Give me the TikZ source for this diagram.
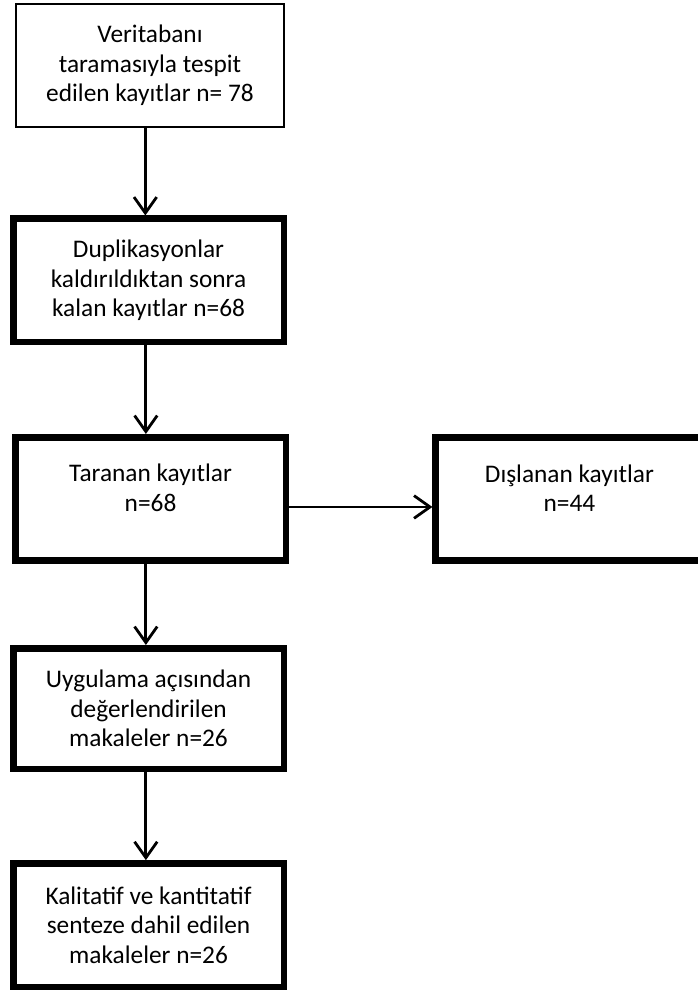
\documentclass[tikz,border=0pt]{standalone}
\usepackage{fontspec}
\setmainfont{Carlito}
\usetikzlibrary{positioning,arrows.meta}

\tikzset{
  thinbox/.style={draw,line width=1.5pt,minimum width=201pt,minimum height=92.3pt},
  thickbox/.style={draw,line width=4.9pt,minimum width=202.9pt,minimum height=92.6pt},
  txt/.style={align=center,font=\fontsize{19pt}{22pt}\selectfont},
  arr/.style={line width=2.1pt,-{Straight Barb[length=12pt,width=17pt,line width=2.1pt]}}
}

\begin{document}
\begin{tikzpicture}
      \useasboundingbox (-112.5pt,49.1pt) rectangle (410.3pt,-694.1pt);

      \node[thinbox,txt] (1) {Veritabanı\\taramasıyla tespit\\edilen kayıtlar n= 78};
      \node[thickbox,txt,below of=1,yshift=-132.8pt,xshift=-1.1pt] (2) {Duplikasyonlar\\kaldırıldıktan sonra\\kalan kayıtlar n=68};
      \node[thickbox,below of=2,yshift=-135.4pt,xshift=1.5pt] (3) {};
      \node[thickbox,minimum width=200.6pt,right of=3,xshift=285.7pt] (4) {};
      \node[thickbox,txt,minimum height=90.4pt,below of=3,yshift=-128.7pt,xshift=-1.5pt] (5) {Uygulama açısından\\değerlendirilen\\makaleler n=26};
      \node[thickbox,txt,below of=5,yshift=-134pt] (6) {Kalitatif ve kantitatif\\senteze dahil edilen\\makaleler n=26};

      \node[txt,yshift=8.3pt] (3t) at (3) {Taranan kayıtlar\\n=68};
      \node[txt,yshift=8.3pt] (4t) at (4) {Dışlanan kayıtlar\\n=44};

      \draw[arr] ([xshift=-3.5pt]1.south) -- ([xshift=-3.5pt]1.south |- 2.north);
      \draw[arr] ([xshift=-2pt]2.south) -- ([xshift=-2pt]2.south |- 3.north);
      \draw[arr] ([yshift=-6pt]3.east) -- ([yshift=-6pt]3.east -| 4.west);
      \draw[arr] ([xshift=-3.5pt]3.south) -- ([xshift=-3.5pt]3.south |- 5.north);
      \draw[arr] ([xshift=-2pt]5.south) -- ([xshift=-2pt]5.south |- 6.north);
    \end{tikzpicture}
\end{document}
